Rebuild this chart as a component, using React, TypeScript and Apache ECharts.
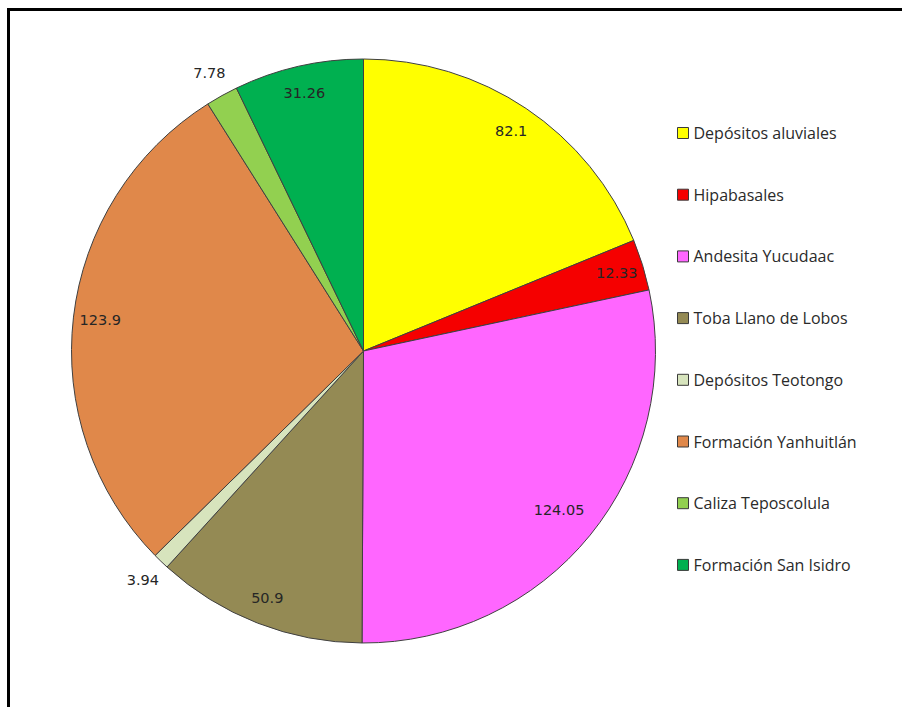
import React, { useEffect, useRef } from "react";
import * as echarts from "echarts";

const categories = [
  "Depósitos aluviales",
  "Hipabasales",
  "Andesita Yucudaac",
  "Toba Llano de Lobos",
  "Depósitos Teotongo",
  "Formación Yanhuitlán",
  "Caliza Teposcolula",
  "Formación San Isidro",
];
const values = [82.1, 12.33, 124.05, 50.9, 3.94, 123.9, 7.78, 31.26];
const colors = ["#FFFF00", "#F50000", "#FF66FF", "#948A54", "#D7E4BD", "#E0884A", "#92D050", "#00B050"];
// which label ring each value label sits on
const labelRing = ["mid", "mid", "deep", "mid", "out", "mid", "out", "mid"];

const CX = 363.5;
const CY = 351;
const R = 292;

export default function App() {
  const ref = useRef<HTMLDivElement>(null);
  useEffect(() => {
    if (!ref.current) return;
    const chart = echarts.init(ref.current, undefined, { renderer: "svg" });
    const labelFont = { fontFamily: "DejaVu Sans", fontSize: 14.5, color: "#262626" };
    const labelPie = (ring: string, radius: [number, number]) => ({
      type: "pie",
      center: [CX, CY],
      radius,
      startAngle: 90,
      clockwise: true,
      silent: true,
      legendHoverLink: false,
      avoidLabelOverlap: false,
      itemStyle: { color: "transparent", borderWidth: 0 },
      labelLine: { show: false },
      emphasis: { disabled: true },
      data: categories.map((n, i) => ({
        name: n,
        value: values[i],
        label: {
          show: labelRing[i] === ring,
          position: "inside",
          formatter: "{c}",
          ...labelFont,
        },
      })),
    });
    chart.setOption({
      animation: false,
      backgroundColor: "#ffffff",
      legend: {
        orient: "vertical",
        left: 672,
        top: 120,
        itemWidth: 11,
        itemHeight: 11,
        itemGap: 45.7,
        icon: "rect",
        itemStyle: { borderColor: "#3a3a3a", borderWidth: 1 },
        textStyle: { fontFamily: "Open Sans", fontSize: 16, color: "#2a2a2a", lineHeight: 16 },
        data: categories,
      },
      graphic: [
        { type: "line", shape: { x1: 8.5, y1: 9.5, x2: 902, y2: 9.5 }, style: { stroke: "#000", lineWidth: 3 } },
        { type: "line", shape: { x1: 8.5, y1: 8, x2: 8.5, y2: 707 }, style: { stroke: "#000", lineWidth: 3 } },
      ],
      series: [
        {
          type: "pie",
          center: [CX, CY],
          radius: R,
          startAngle: 90,
          clockwise: true,
          label: { show: false },
          labelLine: { show: false },
          itemStyle: { borderColor: "#404040", borderWidth: 1 },
          data: categories.map((n, i) => ({ name: n, value: values[i], itemStyle: { color: colors[i] } })),
        },
        labelPie("mid", [232, R]),
        labelPie("deep", [206, R]),
        labelPie("out", [300, 330]),
      ],
    });
    return () => chart.dispose();
  }, []);
  return <div ref={ref} style={{ position: "fixed", left: 0, top: 0, width: 902, height: 707 }} />;
}
